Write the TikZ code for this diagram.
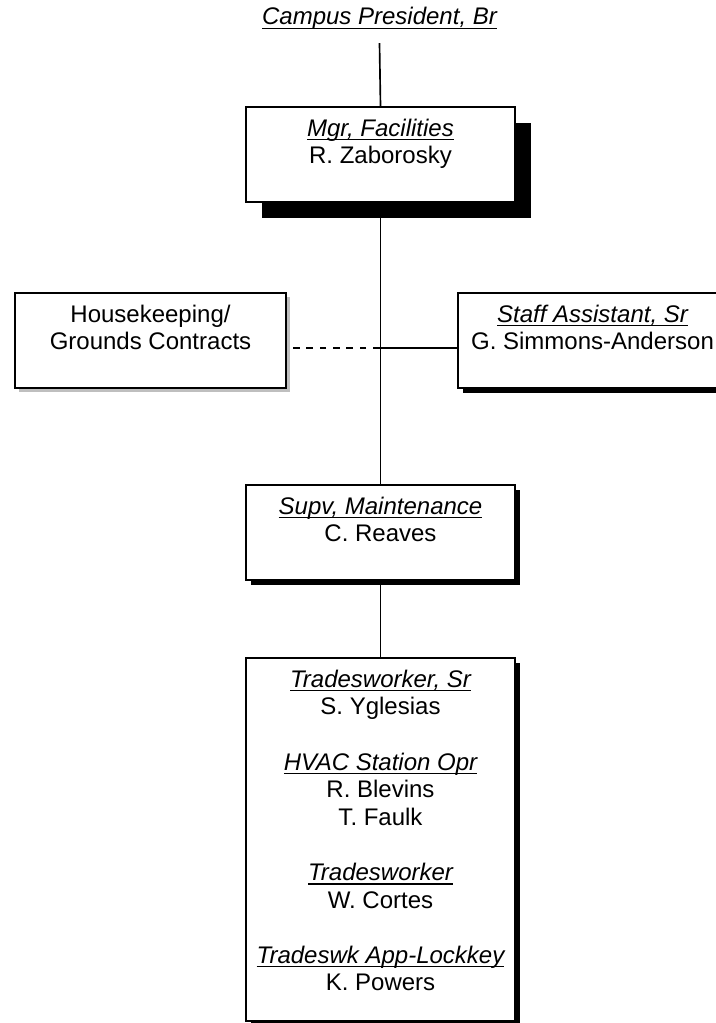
\documentclass[tikz,border=0pt]{standalone}
\usepackage{fontspec}
\setmainfont{Liberation Sans}
\usetikzlibrary{shadows}
\newcommand{\postitle}[1]{\setbox0\hbox{\itshape #1}\rlap{\rule[-3pt]{\wd0}{1.1pt}}\box0}
\tikzset{
  box/.style={draw, fill=white, line width=1.5pt, minimum width=201.75pt,
    minimum height=71.25pt, anchor=north west, inner sep=0pt},
  heavy shadow/.style={general shadow={fill=black, shadow xshift=12pt, shadow yshift=-12pt}},
  thin shadow/.style={general shadow={fill=black, shadow xshift=3.75pt, shadow yshift=-3.75pt}},
  gray shadow/.style={general shadow={fill=black!25, shadow xshift=3pt, shadow yshift=-3pt}},
  boxtext/.style={anchor=north, align=center, inner xsep=0pt, inner ysep=9.5pt,
    execute at begin node=\strut},
  link/.style={line width=1.25pt},
}
\begin{document}
\begin{tikzpicture}[x=0.75pt, y=-0.75pt, every node/.style={font=\fontsize{18}{20.7}\selectfont}]
  \useasboundingbox (0,0) rectangle (715,1023);
  % top of the chart
  \node[anchor=base, inner ysep=9.7pt] (pres) at (379.5,25) {\postitle{Campus President, Br}};
  \node[box, heavy shadow] (mgr) at (245,106) {};
  \node[boxtext] (mgrtext) at (mgr.north) {\postitle{Mgr, Facilities}\\R. Zaborosky};
  % side boxes
  \node[box, gray shadow, minimum width=203.25pt] (hk) at (14,292) {};
  \node[boxtext] (hktext) at (hk.north) {Housekeeping/\\Grounds Contracts};
  \node[box, thin shadow] (staff) at (457,292) {};
  \node[boxtext] (stafftext) at (staff.north) {\postitle{Staff Assistant, Sr}\\G. Simmons-Anderson};
  % maintenance
  \node[box, thin shadow] (supv) at (245,484) {};
  \node[boxtext] (supvtext) at (supv.north) {\postitle{Supv, Maintenance}\\C. Reaves};
  \node[box, thin shadow, minimum height=272.25pt] (trades) at (245,657) {};
  \node[boxtext] (tradestext) at (trades.north) {\postitle{Tradesworker, Sr}\\S. Yglesias\\[20.7pt]
    \postitle{HVAC Station Opr}\\R. Blevins\\T. Faulk\\[20.7pt]
    \postitle{Tradesworker}\\W. Cortes\\[20.7pt]
    \postitle{Tradeswk App-Lockkey}\\K. Powers};
  % connectors
  \coordinate (branch) at (379.5,348);
  \draw[link] (pres.south) -- (mgr.north);
  \draw[link] (mgr.south) -- (supv.north);
  \draw[link] (supv.south) -- (trades.north);
  \draw[link] (branch) -- (branch -| staff.west);
  \draw[link, dash pattern=on 5pt off 5pt] (branch) -- (branch -| hk.east);
\end{tikzpicture}
\end{document}
